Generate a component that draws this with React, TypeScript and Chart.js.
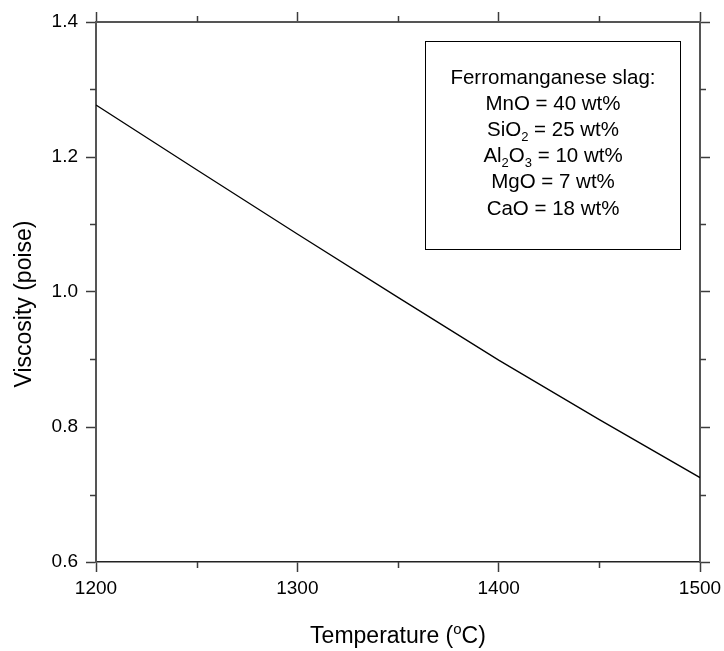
import React, { useEffect, useRef } from "react";
import { Chart, registerables } from "chart.js";

Chart.register(...registerables);

// Viscosity of a ferromanganese slag versus temperature
const temperatures = [1200, 1250, 1300, 1350, 1400, 1450, 1500];
const viscosity = [1.277, 1.181, 1.086, 0.992, 0.899, 0.811, 0.725];

const xMajorStep = 100;
const yMajorStep = 0.2;
const xMinorTicks = [1250, 1350, 1450];
const yMinorTicks = [0.7, 0.9, 1.1, 1.3];

const xTitle = ["Temperature (", "o", "C)"];
const yTitle = "Viscosity (poise)";

// Composition box: each line is a list of [text, kind] runs
type Run = [string, "n" | "sub"];
const compositionLines: Run[][] = [
  [["Ferromanganese slag:", "n"]],
  [["MnO = 40 wt%", "n"]],
  [["SiO", "n"], ["2", "sub"], [" = 25 wt%", "n"]],
  [["Al", "n"], ["2", "sub"], ["O", "n"], ["3", "sub"], [" = 10 wt%", "n"]],
  [["MgO = 7 wt%", "n"]],
  [["CaO = 18 wt%", "n"]],
];

const FONT = "'Liberation Sans', Arial, sans-serif";
const AXIS_COLOR = "#3c3c3c";

const decorations = {
  id: "decorations",
  afterDraw(chart: any) {
    const ctx = chart.ctx as CanvasRenderingContext2D;
    const { left, right, top, bottom } = chart.chartArea;
    const sx = chart.scales.x;
    const sy = chart.scales.y;
    ctx.save();

    // minor ticks, pointing outward on all four sides
    ctx.strokeStyle = AXIS_COLOR;
    ctx.lineWidth = 1.5;
    ctx.beginPath();
    for (const v of xMinorTicks) {
      const px = Math.round(sx.getPixelForValue(v)) + 0.5;
      ctx.moveTo(px, bottom);
      ctx.lineTo(px, bottom + 6);
      ctx.moveTo(px, top);
      ctx.lineTo(px, top - 6);
    }
    for (const v of yMinorTicks) {
      const py = Math.round(sy.getPixelForValue(v)) + 0.5;
      ctx.moveTo(left, py);
      ctx.lineTo(left - 6, py);
      ctx.moveTo(right, py);
      ctx.lineTo(right + 6, py);
    }
    ctx.stroke();

    // axis titles
    ctx.fillStyle = "#000";
    ctx.textBaseline = "alphabetic";
    const mainFont = `23px ${FONT}`;
    const supFont = `15px ${FONT}`;
    ctx.font = mainFont;
    const w0 = ctx.measureText(xTitle[0]).width;
    const w2 = ctx.measureText(xTitle[2]).width;
    ctx.font = supFont;
    const w1 = ctx.measureText(xTitle[1]).width;
    const cx = (left + right) / 2;
    const x0 = cx - (w0 + w1 + w2) / 2;
    const baseY = 643;
    ctx.textAlign = "left";
    ctx.font = mainFont;
    ctx.fillText(xTitle[0], x0, baseY);
    ctx.font = supFont;
    ctx.fillText(xTitle[1], x0 + w0, baseY - 9);
    ctx.font = mainFont;
    ctx.fillText(xTitle[2], x0 + w0 + w1, baseY);

    ctx.save();
    ctx.translate(31, (top + bottom) / 2 + 12);
    ctx.rotate(-Math.PI / 2);
    ctx.textAlign = "center";
    ctx.font = mainFont;
    ctx.fillText(yTitle, 0, 0);
    ctx.restore();

    // composition box
    const bx = 425.5, by = 41.5, bw = 255, bh = 208;
    ctx.strokeStyle = "#000";
    ctx.lineWidth = 1;
    ctx.strokeRect(bx, by, bw, bh);
    const textFont = `20.5px ${FONT}`;
    const subFont = `13px ${FONT}`;
    const centerX = bx + bw / 2;
    ctx.textAlign = "left";
    ctx.textBaseline = "alphabetic";
    compositionLines.forEach((runs, i) => {
      const base = 83.5 + i * 26.2;
      let total = 0;
      const widths = runs.map(([t, k]) => {
        ctx.font = k === "sub" ? subFont : textFont;
        const w = ctx.measureText(t).width;
        total += w;
        return w;
      });
      let x = centerX - total / 2;
      runs.forEach(([t, k], j) => {
        ctx.font = k === "sub" ? subFont : textFont;
        ctx.fillText(t, x, k === "sub" ? base + 5 : base);
        x += widths[j];
      });
    });

    ctx.restore();
  },
};

export default function App() {
  const canvasRef = useRef<HTMLCanvasElement | null>(null);

  useEffect(() => {
    const canvas = canvasRef.current;
    if (!canvas) return;
    const tickFont = { family: FONT, size: 19 };
    const gridCommon = {
      drawOnChartArea: false,
      drawTicks: true,
      tickLength: 10,
      tickColor: AXIS_COLOR,
      tickWidth: 1.5,
    };
    const noPad = (s: any) => {
      s.paddingLeft = 0;
      s.paddingRight = 0;
      s.paddingTop = 0;
      s.paddingBottom = 0;
    };
    const chart = new Chart(canvas, {
      type: "line",
      data: {
        labels: temperatures,
        datasets: [
          {
            data: temperatures.map((t, i) => ({ x: t, y: viscosity[i] })),
            borderColor: "#000",
            borderWidth: 1.3,
            pointRadius: 0,
            tension: 0,
            fill: false,
          },
        ],
      },
      options: {
        animation: false,
        responsive: false,
        devicePixelRatio: 1,
        layout: { padding: 0 },
        plugins: { legend: { display: false }, tooltip: { enabled: false } },
        scales: {
          x: {
            type: "linear",
            position: "bottom",
            min: 1200,
            max: 1500,
            ticks: {
              stepSize: xMajorStep,
              font: tickFont,
              color: "#000",
              padding: 5,
              maxRotation: 0,
              callback: (v: any) => String(v),
            },
            grid: gridCommon,
            border: { color: "#222", width: 1.5 },
            afterFit: (s: any) => {
              s.height = 89;
              noPad(s);
            },
          },
          x2: {
            type: "linear",
            position: "top",
            min: 1200,
            max: 1500,
            ticks: { stepSize: xMajorStep, display: false },
            grid: gridCommon,
            border: { color: "#555", width: 2 },
            afterFit: (s: any) => {
              s.height = 22;
              noPad(s);
            },
          },
          y: {
            type: "linear",
            position: "left",
            min: 0.6,
            max: 1.4,
            ticks: {
              stepSize: yMajorStep,
              font: tickFont,
              color: "#000",
              padding: 8,
              callback: (v: any) => Number(v).toFixed(1),
            },
            grid: gridCommon,
            border: { color: "#555", width: 2 },
            afterFit: (s: any) => {
              s.width = 96;
              noPad(s);
            },
          },
          y2: {
            type: "linear",
            position: "right",
            min: 0.6,
            max: 1.4,
            ticks: { stepSize: yMajorStep, display: false },
            grid: gridCommon,
            border: { color: "#555", width: 2 },
            afterFit: (s: any) => {
              s.width = 24;
              noPad(s);
            },
          },
        },
      } as any,
      plugins: [decorations],
    });
    return () => chart.destroy();
  }, []);

  return (
    <div style={{ position: "fixed", left: 0, top: 0, width: 724, height: 651, background: "#fff" }}>
      <canvas ref={canvasRef} width={724} height={651} style={{ width: 724, height: 651 }} />
    </div>
  );
}
